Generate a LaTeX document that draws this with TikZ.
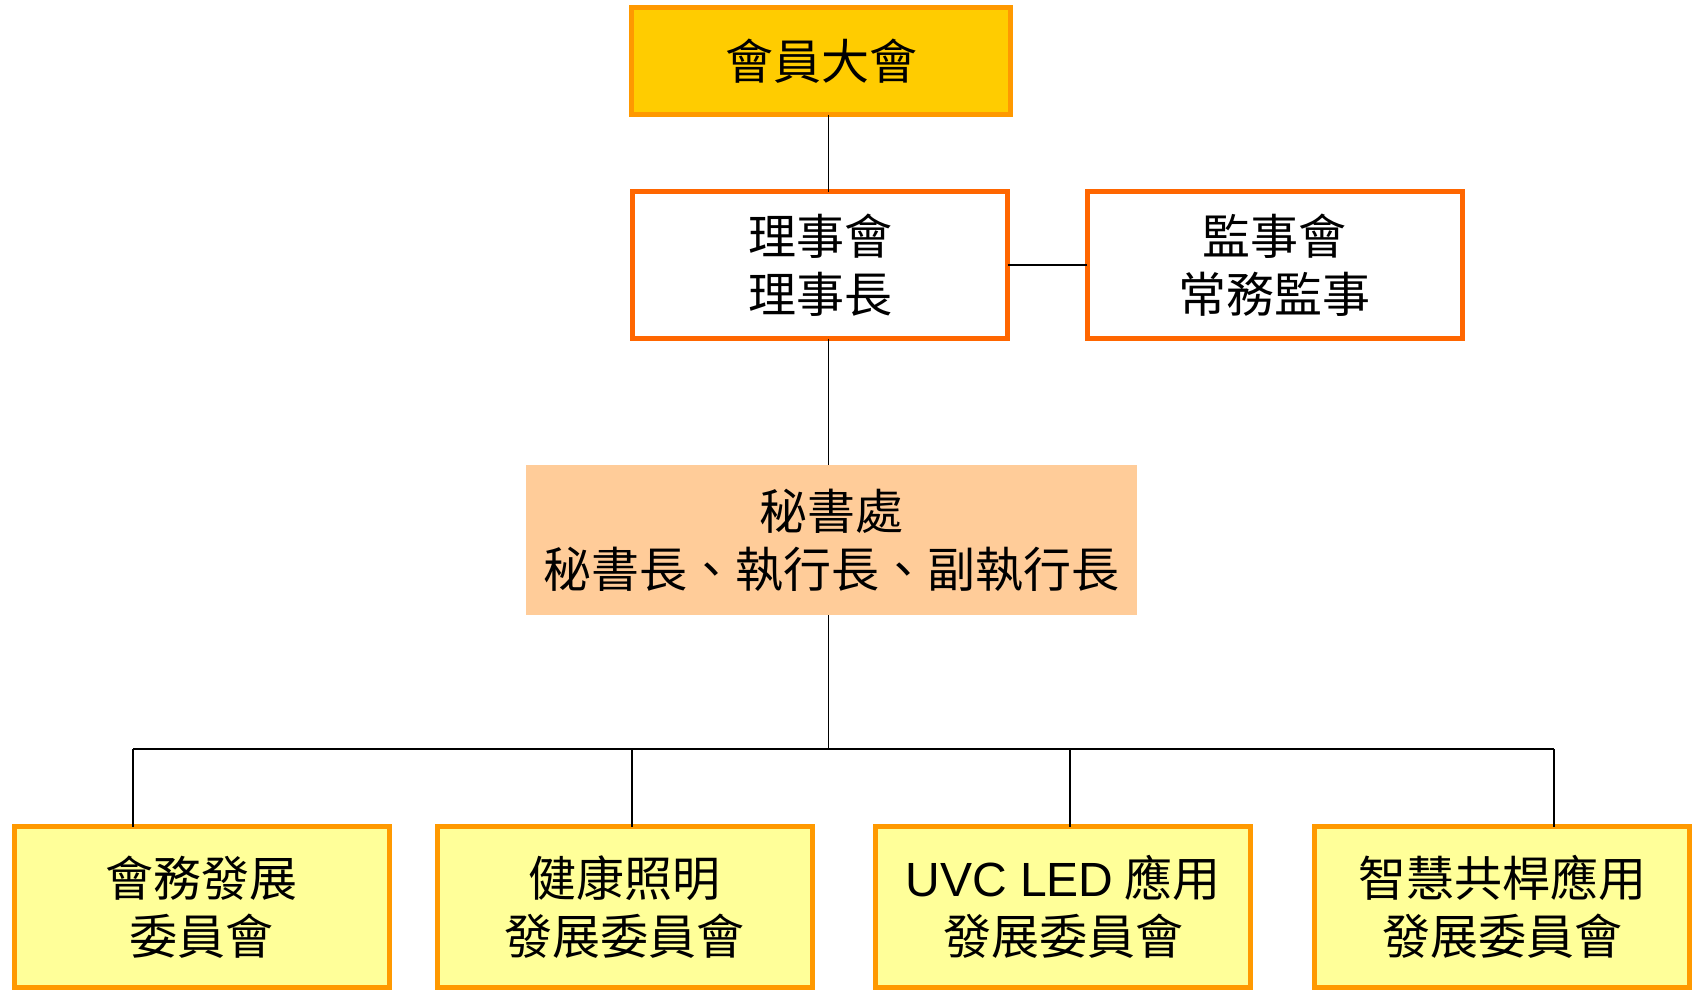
\documentclass[tikz,border=0pt]{standalone}
\usepackage{fontspec}
\setmainfont{Noto Sans CJK TC}
\newfontfamily\latin{Liberation Sans}
\usetikzlibrary{positioning}
\definecolor{gold}{HTML}{FFCC00}
\definecolor{amber}{HTML}{FF9900}
\definecolor{rust}{HTML}{FF6600}
\definecolor{peach}{HTML}{FFCC99}
\definecolor{lemon}{HTML}{FFFF99}
\tikzset{
    every picture/.style={
        x=0.5pt,y=-0.5pt,line width=0.6pt,
        unit/.style={rectangle,inner sep=0pt,outer sep=0pt,align=center,
            line width=2.5pt,font=\fontsize{24pt}{29pt}\selectfont},
        assembly/.style={unit,draw=amber,fill=gold,minimum width=189.5pt,minimum height=53.5pt},
        board/.style={unit,draw=rust,fill=white,minimum width=187.5pt,minimum height=73.5pt},
        office/.style={unit,fill=peach,minimum width=305.5pt,minimum height=75pt},
        committee/.style={unit,draw=amber,fill=lemon,minimum width=187.5pt,minimum height=80.5pt}
    }
}

\begin{document}
\begin{tikzpicture}
    \useasboundingbox (0,0) rectangle (1694,991);
    \node[assembly]  (gm)  at (821,61)    {會員大會};
    \node[board]     (dir) at (820,265)   {理事會\\理事長};
    \node[board]     (sup) at (1274.5,265) {監事會\\常務監事};
    \node[office]    (sec) at (831.5,540) {秘書處\\秘書長、執行長、副執行長};
    \node[committee] (c1)  at (201.5,907) {會務發展\\委員會};
    \node[committee] (c2)  at (624.5,907) {健康照明\\發展委員會};
    \node[committee] (c3)  at (1063,907)  {{\latin UVC LED} 應用\\發展委員會};
    \node[committee] (c4)  at (1502,907)  {智慧共桿應用\\發展委員會};
    % trunk and bus
    \coordinate (spine) at (828.5,749);
    \coordinate (t1) at (133,749);
    \coordinate (t2) at (632,749);
    \coordinate (t3) at (1070,749);
    \coordinate (t4) at (1554,749);
    \draw (spine |- gm.south) -- (spine |- dir.north);
    \draw (dir.east) -- (sup.west);
    \draw (spine |- dir.south) -- (spine |- sec.north);
    \draw (spine |- sec.south) -- (spine);
    \draw (t1) -- (t4);
    \draw (t1) -- (t1 |- c1.north)
          (t2) -- (t2 |- c2.north)
          (t3) -- (t3 |- c3.north)
          (t4) -- (t4 |- c4.north);
\end{tikzpicture}
\end{document}
